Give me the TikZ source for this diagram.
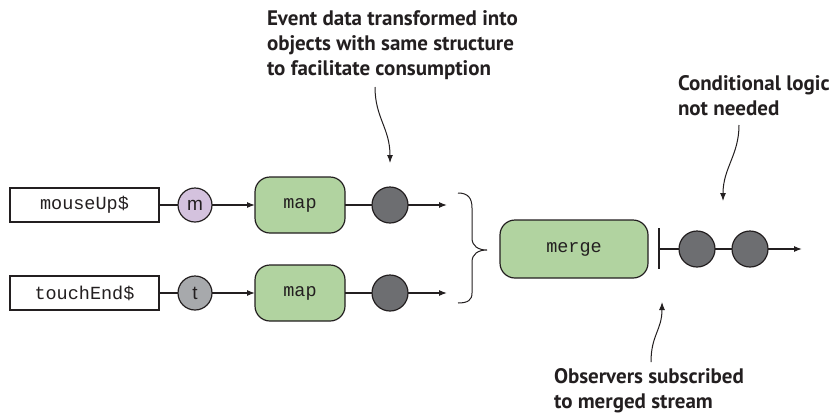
\documentclass[tikz,border=0pt]{standalone}
\usepackage{fontspec}
\setmainfont{Liberation Sans}
\setmonofont{Liberation Mono}
\newfontfamily\notefont[BoldFont={PT Sans Bold}]{PT Sans}
\usetikzlibrary{arrows.meta}
\definecolor{ink}{HTML}{231F20}
\definecolor{srcfill}{HTML}{FFFFFF}
\definecolor{mfill}{HTML}{D4C2DE}
\definecolor{tfill}{HTML}{A7A9AC}
\definecolor{opfill}{HTML}{B1D3A0}
\definecolor{dotfill}{HTML}{6D6E71}
\begin{document}
\begin{tikzpicture}[x=1pt,y=-1pt,
  line width=1.2pt, draw=ink,
  every node/.style={inner sep=0pt, outer sep=0pt},
  src/.style={draw=ink, fill=srcfill, minimum width=149pt, minimum height=34pt, font=\fontsize{18.5}{18.5}\selectfont\ttfamily, text=ink},
  evt/.style={circle, draw=ink, minimum size=34pt, font=\fontsize{19}{19}\selectfont\rmfamily, text=ink},
  opbox/.style={draw=ink, fill=opfill, rounded corners=15pt, minimum width=90pt, minimum height=56pt, font=\fontsize{18.5}{18.5}\selectfont\ttfamily, text=ink},
  dot/.style={circle, draw=ink, fill=dotfill, minimum size=36pt},
  note/.style={align=left, anchor=north west, text=ink, font=\fontsize{21}{25}\selectfont\notefont\bfseries},
  arr/.style={-{Latex[length=8pt,width=6pt]}, draw=ink},
  ln/.style={draw=ink}
]
\useasboundingbox (0,0) rectangle (837,413);

% row 1
\node[src] (s1) at (84.5,205) {mouseUp\$};
\node[evt, fill=mfill] (m) at (195,205) {m};
\node[opbox] (map1) at (300,205) {map};
\node[dot] (d1) at (390,205) {};
\coordinate (e1) at (447,205);
\draw[ln] (s1) -- (m);
\draw[arr] (m) -- (map1);
\draw[ln] (map1) -- (d1);
\draw[arr] (d1) -- (e1);

% row 2
\node[src] (s2) at (84.5,293) {touchEnd\$};
\node[evt, fill=tfill] (t) at (195,293) {t};
\node[opbox] (map2) at (300,293) {map};
\node[dot] (d2) at (390,293) {};
\coordinate (e2) at (447,293);
\draw[ln] (s2) -- (t);
\draw[arr] (t) -- (map2);
\draw[ln] (map2) -- (d2);
\draw[arr] (d2) -- (e2);

% brace
\draw[ink, line width=1pt] (458,193) .. controls (468,193) and (472,198) .. (472,208) -- (472,238)
  .. controls (472,246) and (478,250) .. (487,250)
  .. controls (478,250) and (472,254) .. (472,262) -- (472,293)
  .. controls (472,300) and (468,303) .. (458,303);

% merge
\node[opbox, minimum width=148pt, minimum height=58pt] (merge) at (574,249) {merge};
\coordinate (bar) at (659,249);
\draw[ln] (659,228) -- (659,269);
\node[dot] (c1) at (697,249) {};
\node[dot] (c2) at (750,249) {};
\coordinate (e3) at (802,249);
\draw[ln] (bar) -- (c1);
\draw[ln] (c1) -- (c2);
\draw[arr] (c2) -- (e3);

% notes
\node[note] (n1) at (267,11) {Event data transformed into\\objects with same structure\\to facilitate consumption};
\node[note] (n2) at (678,76) {Conditional logic\\not needed};
\node[note] (n3) at (554,368) {Observers subscribed\\to merged stream};

\coordinate (a1s) at (375,87);
\coordinate (a1e) at (390,163);
\coordinate (a2s) at (739,125);
\coordinate (a2e) at (723,201);
\coordinate (a3s) at (651,362);
\coordinate (a3e) at (662,302);
\draw[arr, line width=1pt] (a1s) .. controls (375,118) and (390,128) .. (a1e);
\draw[arr, line width=1pt] (a2s) .. controls (739,155) and (723,168) .. (a2e);
\draw[arr, line width=1pt] (a3s) .. controls (651,335) and (662,330) .. (a3e);
\end{tikzpicture}
\end{document}
